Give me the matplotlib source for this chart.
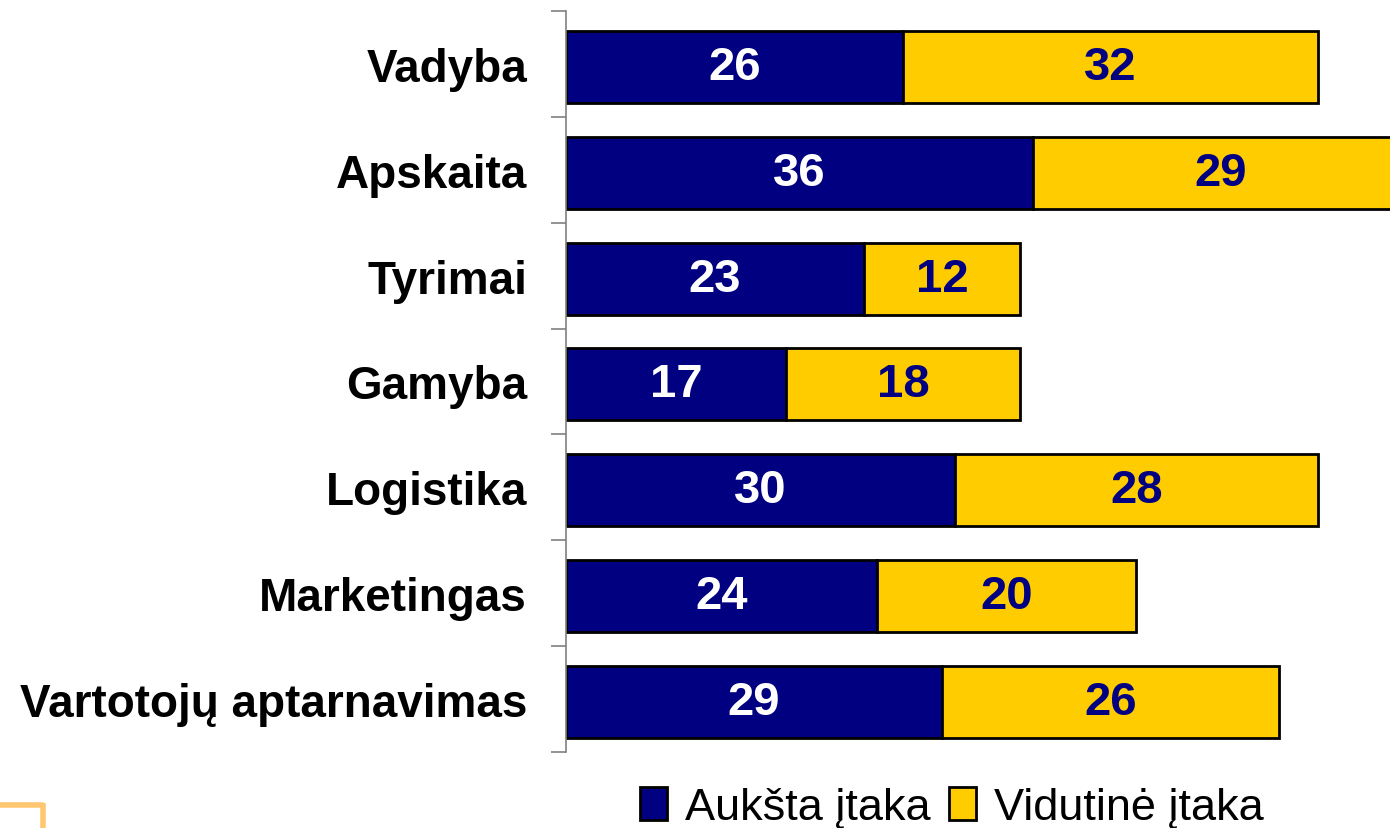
import matplotlib.pyplot as plt
from matplotlib.lines import Line2D
from matplotlib.patches import Patch

plt.rcParams['font.family'] = ['Liberation Sans', 'DejaVu Sans']

categories = ['Vadyba', 'Apskaita', 'Tyrimai', 'Gamyba', 'Logistika',
              'Marketingas', 'Vartotojų aptarnavimas']
high = [26, 36, 23, 17, 30, 24, 29]
medium = [32, 29, 12, 18, 28, 20, 26]
legend_labels = ['Aukšta įtaka', 'Vidutinė įtaka']

navy = '#000080'
yellow = '#FFCC00'

W, H = 1390, 829
fig = plt.figure(figsize=(W / 100, H / 100), dpi=100)
ax = fig.add_axes([566 / W, 1 - 753 / H, 1 - 566 / W, (753 - 12) / H])

y = list(range(len(categories)))
yb = [i + 0.028 for i in y]  # bars sit slightly below band centre
ax.barh(yb, high, height=0.68, color=navy, edgecolor='black', linewidth=2)
ax.barh(yb, medium, left=high, height=0.68, color=yellow, edgecolor='black', linewidth=2)

for i in y:
    ax.text(high[i] / 2, yb[i], str(high[i]), ha='center', va='center',
            color='white', fontsize=34, fontweight='bold')
    ax.text(high[i] + medium[i] / 2, yb[i], str(medium[i]), ha='center', va='center',
            color=navy, fontsize=34, fontweight='bold')

# about 12.96 px per unit, the axis is cut at the right edge of the picture
ax.set_xlim(0, (W - 566) / 12.96)
ax.set_ylim(len(categories) - 0.5, -0.5)

ax.set_yticks(y)
ax.set_yticklabels(categories, fontsize=33, fontweight='bold')
ax.tick_params(axis='y', which='major', length=0, pad=28)
ax.set_yticks([i - 0.5 for i in range(len(categories) + 1)], minor=True)
ax.tick_params(axis='y', which='minor', length=11, width=1.2, color='#808080')
ax.set_xticks([])
for s in ['top', 'right', 'bottom']:
    ax.spines[s].set_visible(False)
ax.spines['left'].set_color('#808080')
ax.spines['left'].set_linewidth(1.2)

handles = [Patch(facecolor=navy, edgecolor='black', linewidth=2),
           Patch(facecolor=yellow, edgecolor='black', linewidth=2)]
fig.legend(handles, legend_labels, loc='lower center', bbox_to_anchor=(952 / W, -0.022),
           ncol=2, frameon=False, fontsize=32.5, handlelength=0.6, handleheight=0.75,
           handletextpad=0.4, columnspacing=0.4, borderaxespad=0)

# orange corner mark bottom-left
orange = '#FFC870'
fig.add_artist(Line2D([0, 44 / W], [1 - 806 / H, 1 - 806 / H], color=orange, linewidth=4,
                      transform=fig.transFigure, solid_capstyle='butt'))
fig.add_artist(Line2D([42.5 / W, 42.5 / W], [1 - 804 / H, 0], color=orange, linewidth=4,
                      transform=fig.transFigure, solid_capstyle='butt'))

fig.savefig('out.png', dpi=100)
